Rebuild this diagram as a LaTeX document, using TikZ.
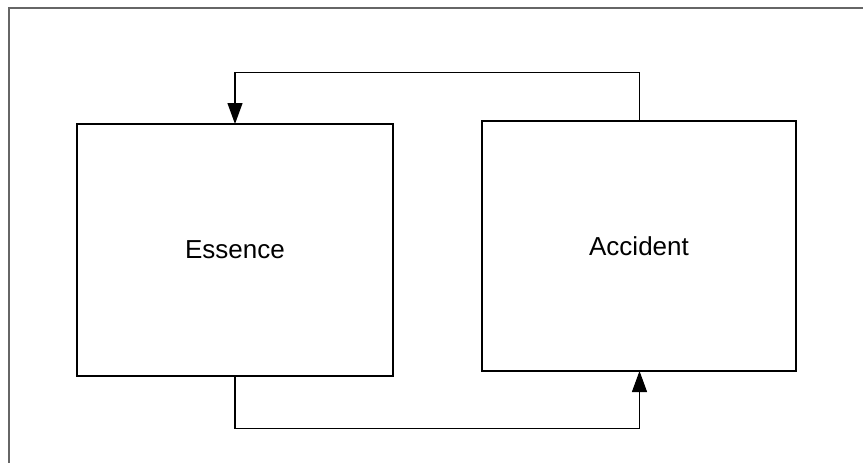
\documentclass[tikz,border=0pt]{standalone}
\usepackage{fontspec}
\setmainfont{Liberation Sans}
\usetikzlibrary{arrows.meta}
\begin{document}
\begin{tikzpicture}[x=1pt,y=-1pt,
  blockbox/.style={draw=black,line width=1.3pt,fill=white,inner sep=0pt},
  conn/.style={draw=black,line width=1.1pt,-{Triangle[length=21pt,width=15pt]}},
  lbl/.style={font=\fontsize{26}{31}\selectfont}]
\useasboundingbox (0,0) rectangle (863,463);
\draw[line width=2pt,draw=black!60] (8.5,463) -- (8.5,8) -- (863,8);
\draw[blockbox] (77,124) rectangle (393,376);
\node[lbl] (ess) at (235,250) {Essence};
\draw[blockbox] (482,121) rectangle (796,371);
\node[lbl] (acc) at (639,246) {Accident};
\coordinate (essT) at (235,124);
\coordinate (essB) at (235,376);
\coordinate (accT) at (639.5,121);
\coordinate (accB) at (639.5,371);
\draw[conn] (accT) |- (235,72.5) -- (essT);
\draw[conn] (essB) |- (639.5,428.5) -- (accB);
\end{tikzpicture}
\end{document}
